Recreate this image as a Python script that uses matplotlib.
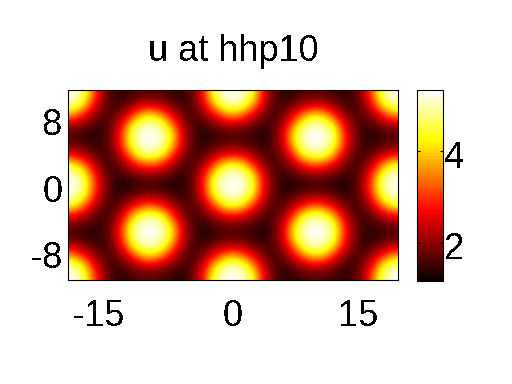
import numpy as np
import matplotlib
matplotlib.use("Agg")
import matplotlib.pyplot as plt
from matplotlib.transforms import ScaledTranslation

plt.rcParams['font.family'] = ['Liberation Sans', 'DejaVu Sans']
plt.rcParams['text.antialiased'] = False
plt.rcParams['axes.unicode_minus'] = False

title = "u at hhp10"
x_ticks = [-15, 0, 15]
y_ticks = [-8, 0, 8]
cbar_ticks = [2, 4]
value_min, value_max = 1.17, 5.33

# Field values read from the picture: one quadrant, sampled every 1.2 axis units,
# first row at y = 0, first column at x = 0 (the picture is mirror symmetric).
quadrant = np.array([
 [5.33,5.20,4.55,2.75,1.85,1.40,1.26,1.43,1.50,1.49,1.38,1.20,1.56,2.13,3.43,4.87,5.28,5.31],
 [5.20,5.00,4.20,2.57,1.77,1.40,1.65,1.87,2.00,1.95,1.77,1.55,1.52,2.00,3.15,4.65,5.12,5.17],
 [4.55,4.20,3.05,2.13,1.62,1.70,2.15,2.70,3.15,3.05,2.50,1.95,1.55,1.77,2.45,3.60,4.45,4.50],
 [2.75,2.57,2.13,1.70,1.55,2.00,2.92,4.30,4.73,4.65,3.85,2.50,1.77,1.50,1.87,2.30,2.70,2.72],
 [1.85,1.77,1.62,1.40,1.67,2.33,3.85,4.95,5.24,5.20,4.67,3.15,2.00,1.50,1.50,1.70,1.82,1.83],
 [1.60,1.56,1.43,1.26,1.70,2.40,4.10,5.05,5.31,5.25,4.80,3.20,2.03,1.52,1.30,1.50,1.59,1.59],
 [2.20,2.10,1.83,1.56,1.62,2.17,3.43,4.70,5.07,4.98,4.40,2.80,1.93,1.46,1.67,1.95,2.17,2.19],
 [3.70,3.27,2.50,1.93,1.51,1.85,2.50,3.50,4.15,4.05,3.05,2.15,1.69,1.67,2.13,2.80,3.55,3.65],
 [4.95,4.72,3.70,2.40,1.70,1.55,1.85,2.20,2.45,2.40,2.05,1.70,1.46,1.93,2.75,4.25,4.85,4.90],
 [5.30,5.14,4.45,2.70,1.83,1.38,1.46,1.64,1.70,1.70,1.57,1.38,1.55,2.11,3.37,4.75,5.25,5.27],
 [5.30,5.14,4.45,2.70,1.83,1.38,1.46,1.64,1.70,1.70,1.57,1.38,1.55,2.11,3.37,4.75,5.25,5.27],
])
half_width = 20.4
half_height = 12.0
step = 1.2

right = np.hstack([quadrant[:, :0:-1], quadrant])
field = np.vstack([right[:0:-1], right])

W, H = 512, 384
fig = plt.figure(figsize=(W / 100, H / 100), dpi=100)
ax = fig.add_axes([68 / W, (H - 280) / H, 330 / W, 190 / H])
im = ax.imshow(field, origin='lower', cmap=plt.get_cmap('hot', 64),
               vmin=value_min, vmax=value_max, interpolation='bicubic', aspect='auto',
               extent=[-half_width - step / 2, half_width + step / 2,
                       -half_height - step / 2, half_height + step / 2])
ax.set_xlim(-19.8, 19.8)
ax.set_ylim(-11.4, 11.4)
ax.set_xticks(x_ticks)
ax.set_yticks(y_ticks)
ax.tick_params(axis='y', length=0, labelsize=26, pad=4)
ax.tick_params(axis='x', length=0, labelsize=26, pad=14)
ax.set_title(title, fontsize=26, pad=21)

cax = fig.add_axes([417 / W, (H - 281) / H, 26 / W, 191 / H])
cb = fig.colorbar(im, cax=cax, ticks=cbar_ticks)
cb.ax.tick_params(labelsize=26, length=2, width=0.8, direction='in', left=True, right=True, pad=1)

# Small nudges of tick labels, in pixels, to sit where the reference has them
def nudge(label, dx, dy):
    label.set_transform(label.get_transform() + ScaledTranslation(dx / 100, dy / 100, fig.dpi_scale_trans))

fig.canvas.draw()
for lab in ax.get_yticklabels():
    nudge(lab, 0, -3)
for lab in cb.ax.get_yticklabels():
    nudge(lab, 0, -3)
nudge(ax.get_xticklabels()[0], -9, 0)

fig.savefig("out.png", dpi=100, facecolor='white')
